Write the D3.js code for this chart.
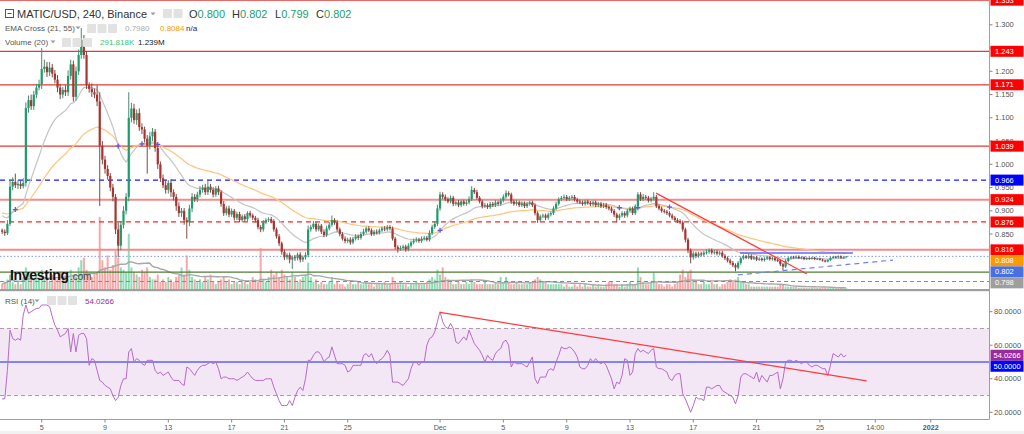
<!DOCTYPE html>
<html><head><meta charset="utf-8">
<script src="https://cdn.jsdelivr.net/npm/d3@7"></script>
<style>html,body{margin:0;padding:0;background:#fff;overflow:hidden}svg{display:block;font-family:"Liberation Sans",Arial,sans-serif}</style>
</head><body><svg id="c" width="1024" height="434"></svg>
<script>
// ---------------- DATA (prices in thousandths of USD) ----------------
const firstOpen = 858;
const closes = [
855,852,872,952,962,955,958,953,960,1121,
1138,1125,1150,1165,1172,1205,1210,1198,1208,1195,
1182,1165,1150,1160,1155,1190,1215,1145,1200,1235,
1268,1235,1170,1162,1155,1150,1135,1040,1010,990,
975,950,930,860,825,870,900,930,1100,1120,
1095,1110,1080,1075,1055,1040,1060,1070,1035,1000,
970,955,945,960,940,930,910,895,900,880,
875,905,930,925,935,945,950,940,952,945,
935,948,940,915,895,905,892,900,885,893,
880,888,882,895,890,885,880,865,860,875,
880,882,878,860,845,830,812,800,805,795,
800,798,806,795,800,805,860,865,872,860,
868,855,848,862,870,880,875,860,850,840,
835,838,832,840,845,842,850,855,862,858,
850,855,853,858,862,860,865,862,840,822,
818,820,823,817,825,832,836,838,835,840,
842,838,852,865,872,905,935,930,925,920,
928,915,918,912,920,915,918,925,945,940,
928,920,910,912,908,915,912,918,915,922,
930,938,935,920,915,918,912,916,910,915,
918,912,895,880,888,890,885,892,895,905,
915,925,928,930,925,928,930,924,920,918,
915,920,917,914,918,912,915,910,913,908,
905,900,892,885,890,895,890,900,905,895,
910,935,925,930,928,922,926,930,910,905,
900,898,895,890,885,880,878,875,860,838,
815,800,808,803,808,806,810,812,815,810,
812,808,810,803,798,793,788,783,778,788,
798,802,799,803,797,800,795,797,794,797,
800,796,798,794,793,785,780,792,798,800,
799,801,798,800,796,798,797,799,796,797,
795,793,791,794,799,801,800,802,799,800,
802];
const wickUp = [
4,5,8,15,10,18,8,6,10,12, 10,12,8,8,10,45,15,10,12,8, 8,10,8,6,10,12,10,8,10,12,
25,10,8,6,12,8,20,20,10,8, 8,6,8,6,15,8,10,8,55,12, 10,8,10,8,6,8,10,8,6,8,
6,8,10,6,8,6,6,8,6,6, 6,8,8,6,6,8,6,8,15,6, 6,5,6,4,6,5,6,5,4,5,
5,4,5,4,5,4,4,5,4,5, 4,4,5,4,4,5,4,5,4,5, 4,5,4,5,4,6,8,5,6,4,
5,4,5,6,6,10,4,5,4,4, 5,4,5,4,5,4,5,6,4,5, 4,4,5,4,4,5,4,4,4,4,
4,5,4,4,5,4,4,5,4,5, 4,4,6,5,6,8,6,5,5,4, 5,4,4,5,4,4,5,6,8,4,
5,4,4,5,4,4,4,5,4,5, 5,6,4,4,4,5,4,4,4,4, 4,4,4,4,4,4,4,4,4,5,
5,4,4,5,4,4,4,4,4,4, 4,4,4,4,4,4,4,4,4,4, 4,4,4,4,4,4,4,4,4,4,
4,5,5,6,4,4,4,10,4,4, 4,4,4,4,4,4,4,4,4,4, 4,4,5,4,4,4,4,5,4,4,
4,4,4,4,4,4,4,4,4,4, 4,4,3,4,3,3,3,3,3,3, 3,3,3,3,3,3,3,4,3,3,
3,3,3,2,2,2,2,2,2,2, 2,2,2,2,2,2,2,2,2,2, 0];
const wickDn = [
5,6,4,5,8,6,8,6,5,8, 10,8,8,8,6,10,8,10,8,8, 8,10,10,8,8,8,8,10,8,8,
8,8,8,8,10,8,10,130,10,10, 8,8,10,10,25,10,8,8,10,10, 8,10,8,10,8,60,8,10,8,10,
8,6,8,8,10,8,10,8,8,10, 35,8,8,6,6,6,6,6,6,6, 6,5,6,6,6,5,6,5,6,5,
5,5,5,4,5,5,5,5,6,5, 4,4,5,5,5,6,6,6,5,8, 20,6,5,6,5,5,5,5,4,5,
4,5,5,4,4,4,5,5,5,4, 5,5,5,4,4,5,4,4,4,4, 4,4,4,4,4,4,4,4,4,5,
8,4,4,5,4,4,4,4,4,4, 4,4,4,4,4,5,5,5,4,4, 4,5,4,4,4,4,4,4,4,4,
4,4,5,4,4,4,4,4,4,4, 4,4,4,5,4,4,4,4,4,4, 4,4,5,6,4,4,5,4,4,4,
4,4,4,4,4,4,4,4,4,4, 4,4,4,4,4,4,4,4,4,4, 4,5,5,10,5,4,5,4,4,4,
4,4,4,4,4,4,4,4,4,4, 4,4,4,4,4,4,4,4,5,6, 6,13,5,5,4,4,4,4,4,4,
4,4,4,4,4,4,4,4,8,4, 4,3,3,3,3,3,3,3,3,3, 3,3,3,3,3,4,8,3,3,3,
2,2,2,2,2,2,2,2,2,2, 2,2,2,2,2,2,2,2,2,2, 1];
// volume, millions
const volumes = [
2,3,4,6,3,2,3,2,5,9, 7,5,4,6,4,8,5,4,3,6, 5,4,7,5,6,4,8,6,5,9,
12,13,8,6,5,6,7,30,12,9, 14,8,10,16,13,9,8,7,23,9, 7,6,5,8,7,9,5,4,4,6,
3,4,3,5,4,3,5,6,9,6, 14,8,5,4,3,4,3,5,4,6, 3,2,3,4,5,3,4,2,3,3,
2,4,3,2,3,5,4,3,17,4, 3,5,8,6,7,5,8,6,5,4, 7,5,3,4,5,6,11,5,3,4,
2,3,2,2,3,5,2,3,2,2, 1,2,3,2,2,3,2,2,3,2, 2,1,2,2,2,3,2,2,5,3,
2,3,2,2,1,2,2,3,2,2, 2,3,4,5,4,8,6,9,5,4, 3,2,2,3,2,2,3,2,4,3,
2,2,2,3,2,2,2,3,2,5, 3,5,3,2,2,3,2,2,2,2, 3,3,4,5,4,3,3,2,2,2,
2,2,2,1,2,1,1,2,1,2, 1,2,1,1,2,1,2,1,1,2, 3,3,2,2,1,2,1,2,3,2,
2,9,5,3,2,2,3,7,3,2, 2,1,2,2,1,2,3,6,8,5, 7,8,4,3,2,2,3,2,2,3,
2,2,1,2,2,3,4,3,4,5, 3,3,2,2,1,1,1,1,1,1, 1,1,1,1,1,2,2,1,1,1,
1,1,0.5,0.5,0.5,0.5,0.5,0.5,0.5,0.5, 0.5,0.4,0.5,0.4,0.4,0.5,0.5,0.4,0.4,0.3, 0.292];
const rsiValues = [
28,28,45,69,64,63,64,63,78,84, 79,80,81,82,82,84,84,84,83,77, 72,69,65,66,67,70,56,67,56,66,
67,67,64,48,52,51,45,39,38,36, 35,34,30,27,29,36,40,40,56,58, 50,52,51,49,48,51,51,51,45,43,
44,42,43,44,41,39,39,39,37,36, 47,46,44,42,45,47,48,48,49,50, 49,50,46,40,41,41,40,40,40,39,
40,41,42,44,42,40,39,39,39,39, 40,40,40,35,31,27,24,24,24,27, 24,29,33,35,33,40,51,51,54,56,
56,54,50,52,53,59,54,49,49,49, 48,44,45,48,48,48,48,54,55,53, 55,51,49,51,52,54,57,54,38,38,
38,37,36,38,40,46,50,50,48,50, 50,60,64,65,68,74,80,74,71,70, 73,70,62,61,63,65,63,69,65,61,
59,57,54,50,54,52,51,55,57,58, 62,63,60,47,50,49,49,49,48,47, 50,53,40,37,41,41,41,45,46,45,
50,54,59,58,58,59,58,56,53,47, 46,46,48,52,50,52,50,49,50,48, 44,40,34,38,37,42,52,51,42,44,
55,58,56,57,56,55,57,58,47,46, 46,45,44,40,39,42,43,43,31,28, 24,20,24,29,28,28,27,35,35,34,
35,36,36,33,32,31,30,29,25,30, 41,43,43,42,41,40,44,38,42,40, 38,42,42,43,44,34,40,50,51,51,
50,51,50,49,50,50,48,47,48,48, 47,46,46,42,48,55,54,53,55,53, 54.0266];
const emaSeed = {fast: 0.893, slow: 0.897};
const emaLegend = ["0.7980", "0.8084"];
const volLegend = ["291.818K", "1.239M"];
const ohlcLegend = [["O","0.800"],["H","0.802"],["L","0.799"],["C","0.802"]];
// time axis: bar index -> label
const timeTickIdx = [15,39,63,87,107,131,166,190,214,238,262,286,310,331,352];
const timeTickLbl = ["5","9","13","17","21","25","Dec","5","9","13","17","21","25","14:00","2022"];
// horizontal levels (price)
const redSolidLevels = [1.353, 1.243, 1.171, 1.039];
const redBandLevels = [0.924, 0.816];
const redDashLevels = [0.876];
const blueDashLevels = [0.966];
const lastPrice = 0.802;
const greenLevel = 0.768;
const grayDashLevel = 0.748;
// drawn trendlines: [index1, price1, index2, price2]
const redTrend = [247.9, 0.938, 305.1, 0.764];
const blueFlat = [279.7, 0.809, 322.5, 0.809];
const blueRise = [278.9, 0.762, 337.7, 0.794];
const rsiTrend = [166, 79.6, 327.7, 38.7];
const priceTicks = [0.85,0.90,0.95,1.00,1.05,1.10,1.15,1.20,1.25,1.30];
const rsiTicks = [20,40,60,80];

// ---------------- SCALES ----------------
const svg = d3.select('#c');
const AXX = 989.5, MAIN_B = 289, RSI_T = 291.5, TIME_Y = 419.5;
const x = d3.scaleLinear().domain([0,352]).range([2.13, 930.7]);
const y = d3.scaleLinear().domain([0.75,1.35]).range([280.55,1.55]);
const yV = d3.scaleLinear().domain([0,30]).range([MAIN_B,217]);
const yR = d3.scaleLinear().domain([20,80]).range([412.3,311.7]);

const bars = closes.map((c,i)=>{
  const close=c/1000, open=(i?closes[i-1]:firstOpen)/1000;
  return {i, open, close, hi:Math.max(open,close)+wickUp[i]/1000, lo:Math.min(open,close)-wickDn[i]/1000,
    vol:volumes[i], rsi:rsiValues[i], up: close>=open};
});
function ema(arr,n,seed){const k=2/(n+1);let e=seed;return arr.map(v=>(e=v*k+e*(1-k)));}
const cl = bars.map(b=>b.close);
const e21 = ema(cl,21,emaSeed.fast), e55 = ema(cl,55,emaSeed.slow);
const vma = volumes.map((v,i)=>d3.mean(volumes.slice(Math.max(0,i-19),i+1)));

const defs = svg.append('defs');
defs.append('clipPath').attr('id','cm').append('rect').attr('x',0).attr('y',0).attr('width',AXX).attr('height',MAIN_B);
defs.append('clipPath').attr('id','cr').append('rect').attr('x',0).attr('y',RSI_T).attr('width',AXX).attr('height',TIME_Y-RSI_T);

const gm = svg.append('g').attr('clip-path','url(#cm)');
// volume
gm.selectAll('rect.v').data(bars).join('rect').attr('class','v')
  .attr('x',d=>x(d.i)-1).attr('width',2).attr('y',d=>yV(d.vol)).attr('height',d=>MAIN_B-yV(d.vol))
  .attr('fill',d=>d.up?'#8ddcb6':'#f5a9a9');
gm.append('path').attr('d',d3.line().x((d,i)=>x(i)).y(d=>yV(d))(vma)).attr('fill','none').attr('stroke','#a8a8a8').attr('stroke-width',1.4);

// horizontal levels
function hline(p,col,w,dash){gm.append('line').attr('x1',0).attr('x2',AXX).attr('y1',y(p)).attr('y2',y(p)).attr('stroke',col).attr('stroke-width',w).attr('stroke-dasharray',dash||null);}
redSolidLevels.forEach(p=>hline(p,'#e53935',1.2));
redBandLevels.forEach(p=>hline(p,'#f58a8a',2));
redDashLevels.forEach(p=>hline(p,'#f22',1.2,'5,4'));
blueDashLevels.forEach(p=>hline(p,'#1a1aff',1.2,'5,4'));
hline(lastPrice,'#7f9cf5',1,'1.5,2');
hline(greenLevel,'#4d7e33',1.2);
hline(grayDashLevel,'#8a8a8a',1,'4,3');

// EMAs
const ln = d3.line().x((d,i)=>x(i)).y(d=>y(d));
gm.append('path').attr('d',ln(e55)).attr('fill','none').attr('stroke','#ffc47c').attr('stroke-width',1.2);
gm.append('path').attr('d',ln(e21)).attr('fill','none').attr('stroke','#c4c4c4').attr('stroke-width',1.2);

// candles
gm.selectAll('line.w').data(bars).join('line').attr('class','w')
  .attr('x1',d=>x(d.i)).attr('x2',d=>x(d.i)).attr('y1',d=>y(d.hi)).attr('y2',d=>y(d.lo))
  .attr('stroke',d=>d.up?'#4e8a72':'#7d4a48').attr('stroke-width',1);
gm.selectAll('rect.b').data(bars).join('rect').attr('class','b')
  .attr('x',d=>x(d.i)-1.1).attr('width',2.2)
  .attr('y',d=>y(Math.max(d.open,d.close))).attr('height',d=>Math.max(1,Math.abs(y(d.open)-y(d.close))))
  .attr('fill',d=>d.up?'#1f9c6c':'#a8352f');

// EMA crosses
for(let i=1;i<bars.length;i++){
  if(Math.sign(e21[i]-e55[i])!==Math.sign(e21[i-1]-e55[i-1])){
    const cx=x(i), cy=y(e21[i]);
    gm.append('path').attr('d',`M${cx-2.5},${cy}H${cx+2.5}M${cx},${cy-2.5}V${cy+2.5}`).attr('stroke','#6a55d8').attr('stroke-width',1.3);
  }
}
// trendlines
function tl(t,col,dash,w){gm.append('line').attr('x1',x(t[0])).attr('y1',y(t[1])).attr('x2',x(t[2])).attr('y2',y(t[3])).attr('stroke',col).attr('stroke-width',w||1.2).attr('stroke-dasharray',dash||null);}
tl(redTrend,'#ff3b3b');
tl(blueFlat,'#5b6bff',null,1.5);
tl(blueRise,'#6f7fff','5,4');

// watermark
gm.append('text').attr('x',10).attr('y',280).attr('font-size',14).attr('font-weight','bold').attr('fill','#111').attr('letter-spacing','-0.3').text('Investing');
gm.append('text').attr('x',70).attr('y',280).attr('font-size',10).attr('fill','#444').text('.com');

// ---------------- RSI pane ----------------
const gr = svg.append('g').attr('clip-path','url(#cr)');
gr.append('rect').attr('x',0).attr('width',AXX).attr('y',yR(70)).attr('height',yR(30)-yR(70)).attr('fill','#f3e6f5');
[70,30].forEach(v=>gr.append('line').attr('x1',0).attr('x2',AXX).attr('y1',yR(v)).attr('y2',yR(v)).attr('stroke','#a89aa8').attr('stroke-dasharray','4,3'));
gr.append('line').attr('x1',0).attr('x2',AXX).attr('y1',yR(50)).attr('y2',yR(50)).attr('stroke','#6060f0').attr('stroke-width',1.5);
gr.append('path').attr('d',d3.line().x(d=>x(d.i)).y(d=>yR(d.rsi))(bars)).attr('fill','none').attr('stroke','#b66bc9').attr('stroke-width',1);
gr.append('line').attr('x1',x(rsiTrend[0])).attr('y1',yR(rsiTrend[1])).attr('x2',x(rsiTrend[2])).attr('y2',yR(rsiTrend[3])).attr('stroke','#ff3b3b').attr('stroke-width',1.2);

// ---------------- frames ----------------
svg.append('rect').attr('x',0).attr('y',MAIN_B).attr('width',AXX).attr('height',2.2).attr('fill','#9e9e9e');
svg.append('line').attr('x1',0).attr('x2',AXX).attr('y1',TIME_Y).attr('y2',TIME_Y).attr('stroke','#a0a0a0');
svg.append('line').attr('x1',AXX).attr('x2',AXX).attr('y1',0).attr('y2',TIME_Y).attr('stroke','#a0a0a0');
svg.append('rect').attr('x',0).attr('y',431).attr('width',1024).attr('height',3).attr('fill','#f1f1f1');

// value tags (computed first so hidden ticks can be skipped)
function pushApart(tags,gap){tags.sort((a,b)=>a.y-b.y);for(let k=1;k<tags.length;k++){if(tags[k].y<tags[k-1].y+gap)tags[k].y=tags[k-1].y+gap;}return tags;}
const mainTags = pushApart([
  ...redSolidLevels.map(p=>({t:p.toFixed(3),y:y(p),c:'#ff0000'})),
  ...redBandLevels.map(p=>({t:p.toFixed(3),y:y(p),c:'#ff0000'})),
  ...redDashLevels.map(p=>({t:p.toFixed(3),y:y(p),c:'#ff0000'})),
  ...blueDashLevels.map(p=>({t:p.toFixed(3),y:y(p),c:'#0000ff'})),
  {t:(+emaLegend[1]).toFixed(3),y:y(e55[e55.length-1]),c:'#ff9800'},
  {t:lastPrice.toFixed(3),y:y(lastPrice),c:'#4a6fe3'},
  {t:(+emaLegend[0]).toFixed(3),y:y(e21[e21.length-1]),c:'#9e9e9e'}
],11);
const rsiLast = rsiValues[rsiValues.length-1];
const rsiTags = pushApart([{t:rsiLast.toFixed(4),y:yR(rsiLast),c:'#9b2a9b'},{t:(50).toFixed(4),y:yR(50),c:'#0000ff'}],11);

// price axis ticks
const ga = svg.append('g').attr('font-size',7.5).attr('fill','#555');
priceTicks.forEach(p=>{
  ga.append('line').attr('x1',AXX).attr('x2',AXX+3).attr('y1',y(p)).attr('y2',y(p)).attr('stroke','#888');
  if(mainTags.some(tg=>Math.abs(tg.y-y(p))<4.5)) return;
  ga.append('text').attr('x',995).attr('y',y(p)).attr('dy','0.35em').text(p.toFixed(3));
});
rsiTicks.forEach(v=>{
  ga.append('line').attr('x1',AXX).attr('x2',AXX+3).attr('y1',yR(v)).attr('y2',yR(v)).attr('stroke','#888');
  ga.append('text').attr('x',994).attr('y',yR(v)).attr('dy','0.35em').text(v.toFixed(4));
});
// time axis
timeTickIdx.forEach((t,k)=>{
  svg.append('line').attr('x1',x(t)).attr('x2',x(t)).attr('y1',TIME_Y).attr('y2',TIME_Y+3).attr('stroke','#888');
  svg.append('text').attr('x',x(t)).attr('y',430).attr('text-anchor','middle').attr('font-size',7.2)
    .attr('font-weight',timeTickLbl[k]==='2022'?'bold':null).attr('fill','#555').text(timeTickLbl[k]);
});

[...mainTags,...rsiTags].forEach(tg=>{
  svg.append('rect').attr('x',990.5).attr('y',tg.y-5.5).attr('width',33).attr('height',11).attr('fill',tg.c);
  svg.append('text').attr('x',tg.t.length>5?993.5:995).attr('y',tg.y).attr('dy','0.35em').attr('font-size',7.5).attr('fill','#fff').text(tg.t);
});

// ---------------- legends ----------------
const lg = svg.append('g');
function icons(x0,n,yy){for(let k=0;k<n;k++)lg.append('rect').attr('x',x0+k*10.5).attr('y',yy).attr('width',9).attr('height',9).attr('rx',1).attr('fill','#e2e2e2');}
function caret(cx,cy){lg.append('path').attr('d',`M${cx-2.5},${cy-1.5}L${cx+2.5},${cy-1.5}L${cx},${cy+1.2}Z`).attr('fill','#9a9a9a');}
lg.append('rect').attr('x',5.5).attr('y',9.5).attr('width',8).attr('height',8).attr('fill','none').attr('stroke','#555');
lg.append('line').attr('x1',7.5).attr('x2',11.5).attr('y1',13.5).attr('y2',13.5).attr('stroke','#555');
lg.append('text').attr('x',17).attr('y',18).attr('font-size',11).attr('fill','#333').text('MATIC/USD, 240, Binance');
caret(153,14); icons(163,2,9);
const ohlcX = [189,232,275,316];
ohlcLegend.forEach(([k,v],j)=>{const t=lg.append('text').attr('x',ohlcX[j]).attr('y',18).attr('font-size',11);t.append('tspan').attr('fill','#333').text(k);t.append('tspan').attr('fill','#22a06b').text(v);});
lg.append('text').attr('x',5).attr('y',31).attr('font-size',8).attr('fill','#555').text('EMA Cross (21, 55)');
caret(78,28); icons(87,3,24);
lg.append('text').attr('x',125).attr('y',31).attr('font-size',8).attr('fill','#aaa').text(emaLegend[0]);
lg.append('text').attr('x',160).attr('y',31).attr('font-size',8).attr('fill','#ff9800').text(emaLegend[1]);
lg.append('text').attr('x',186).attr('y',31).attr('font-size',8).attr('fill','#1a237e').text('n/a');
lg.append('text').attr('x',5).attr('y',45).attr('font-size',8).attr('fill','#555').text('Volume (20)');
caret(53,42); icons(62,3,38);
lg.append('text').attr('x',100).attr('y',45).attr('font-size',8).attr('fill','#35c57e').text(volLegend[0]);
lg.append('text').attr('x',138).attr('y',45).attr('font-size',8).attr('fill','#222').text(volLegend[1]);
lg.append('text').attr('x',5).attr('y',304).attr('font-size',8).attr('fill','#555').text('RSI (14)');
caret(37,301); icons(47,3,296);
lg.append('text').attr('x',85).attr('y',304).attr('font-size',8).attr('fill','#9b2a9b').text(rsiLast.toFixed(4));
</script></body></html>
